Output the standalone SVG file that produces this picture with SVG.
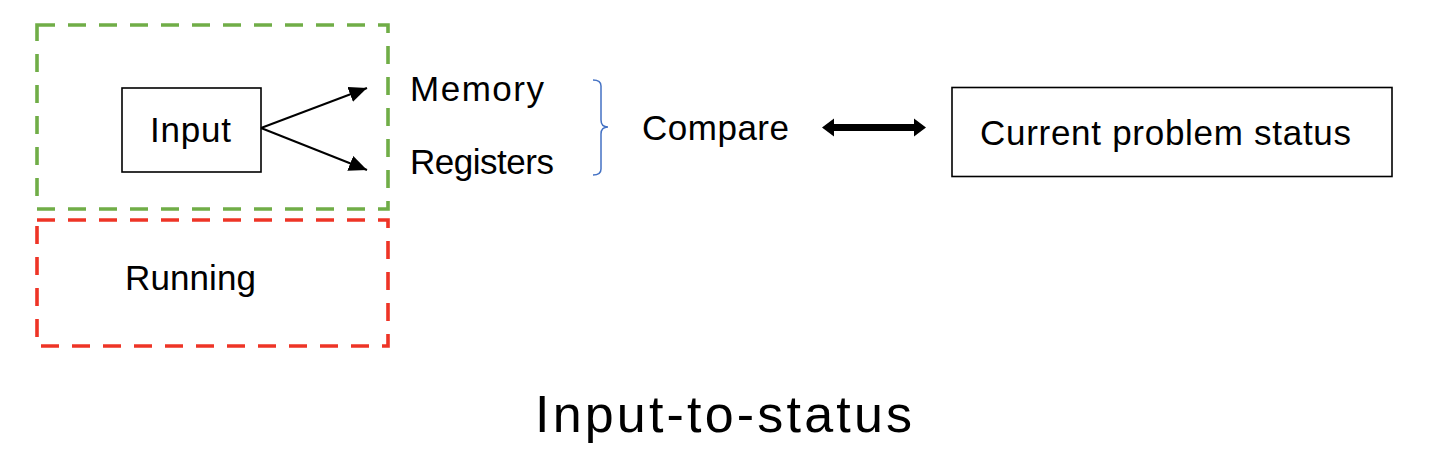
<svg xmlns="http://www.w3.org/2000/svg" width="1434" height="456" viewBox="0 0 1434 456">
<style>
.t{font-family:"Liberation Sans",Arial,sans-serif;font-size:35px;fill:#000}
.box{fill:#fff;stroke:#000;stroke-width:1.6}
.dash{fill:none;stroke-width:3.6;stroke-dasharray:18 13}
.conn{stroke:#000;stroke-width:2;fill:none}
</style>
<defs>
<marker id="ah" markerUnits="userSpaceOnUse" markerWidth="20" markerHeight="16" refX="18" refY="8" orient="auto">
<path d="M0,0 L18,8 L0,16 Z" fill="#000"/>
</marker>
</defs>
<rect width="1434" height="456" fill="#fff"/>
<g id="group-green">
<rect x="37" y="25" width="351" height="184" class="dash" stroke="#70AD47"/>
</g>
<g id="group-red">
<rect x="37" y="220" width="351" height="126" class="dash" stroke="#EE3426"/>
<text class="t" x="125" y="290" textLength="131" lengthAdjust="spacing">Running</text>
</g>
<g id="node-input">
<rect x="122" y="88" width="139" height="84" class="box"/>
<text class="t" x="150" y="142" textLength="81" lengthAdjust="spacing">Input</text>
</g>
<g id="node-memory">
<text class="t" x="410" y="101" textLength="134" lengthAdjust="spacing">Memory</text>
</g>
<g id="node-registers">
<text class="t" x="410" y="174" textLength="144" lengthAdjust="spacing">Registers</text>
</g>
<g id="node-compare">
<text class="t" x="642" y="140" textLength="147" lengthAdjust="spacing">Compare</text>
</g>
<g id="node-status">
<rect x="952" y="87.5" width="440" height="89" class="box"/>
<text class="t" x="980" y="145" textLength="371" lengthAdjust="spacing">Current problem status</text>
</g>
<g id="connectors">
<line x1="261" y1="128" x2="367" y2="88" class="conn" marker-end="url(#ah)"/>
<line x1="261" y1="128" x2="367" y2="170" class="conn" marker-end="url(#ah)"/>
<path d="M593,80 Q601,80 601,86 L601,120 Q601,127 608,127 Q601,127 601,134 L601,169 Q601,175 593,175" fill="none" stroke="#4472C4" stroke-width="1.5"/>
<polygon points="822,127.5 834,118.5 834,124 914,124 914,118.5 926,127.5 914,136.5 914,131 834,131 834,136.5" fill="#000"/>
</g>
<g id="title">
<text x="535" y="432" font-family="'Liberation Sans',Arial,sans-serif" font-size="52" textLength="377" lengthAdjust="spacing">Input-to-status</text>
</g>
</svg>
